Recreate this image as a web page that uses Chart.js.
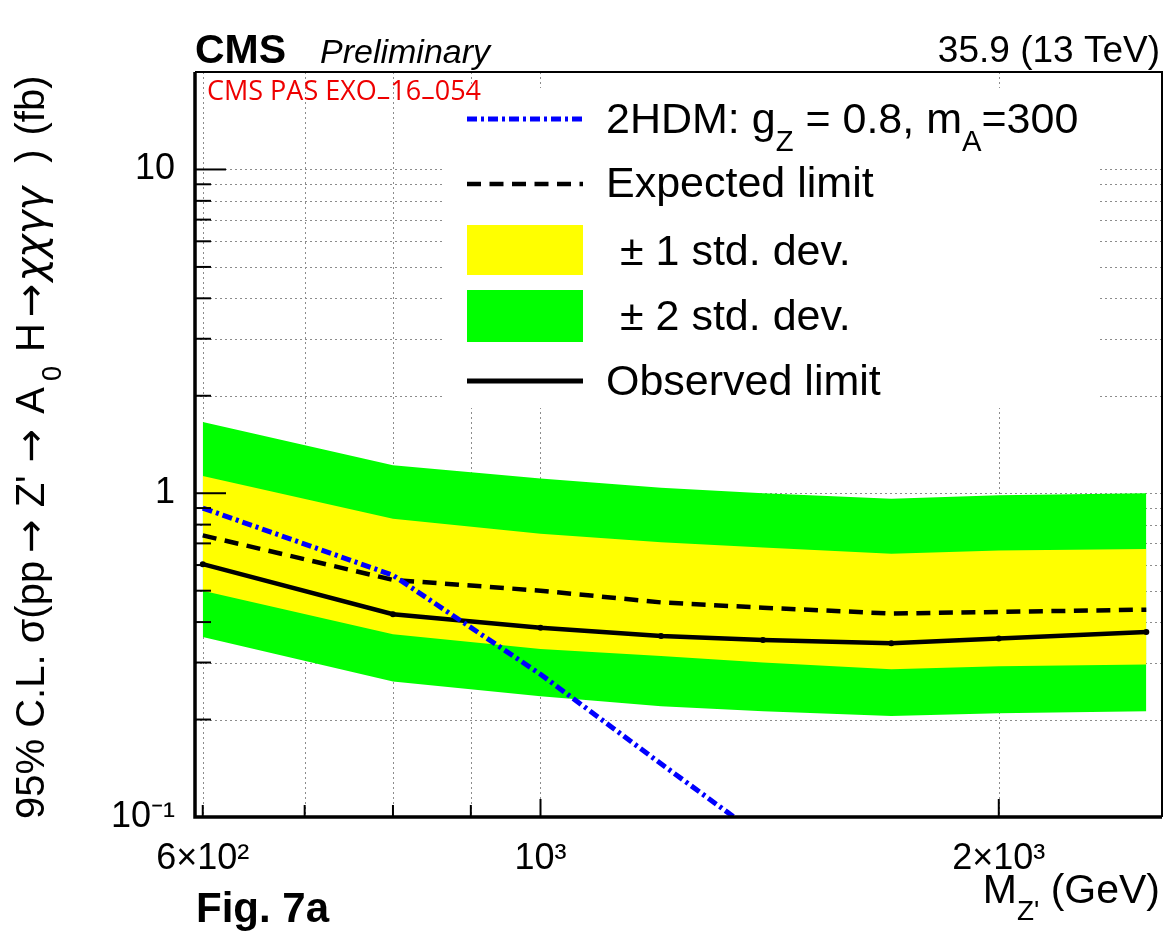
<!DOCTYPE html>
<html>
<head>
<meta charset="utf-8">
<script src="https://cdn.jsdelivr.net/npm/chart.js@4.4.0/dist/chart.umd.min.js"></script>
<style>
body { margin: 0; background: #fff; }
#wrap { position: relative; width: 1172px; height: 937px; }
</style>
</head>
<body>
<div id="wrap"><canvas id="limitChart" width="1172" height="937"></canvas></div>
<script>
//DATA
var massPoints = [600, 800, 1000, 1200, 1400, 1700, 2000, 2500];
var observedLimit = [0.604, 0.423, 0.384, 0.362, 0.352, 0.344, 0.356, 0.373];
var expectedLimit = [0.741, 0.54, 0.50, 0.46, 0.443, 0.425, 0.43, 0.437];
var band1Up = [1.13, 0.834, 0.75, 0.706, 0.68, 0.65, 0.665, 0.673];
var band1Down = [0.50, 0.367, 0.33, 0.314, 0.30, 0.286, 0.292, 0.296];
var band2Up = [1.66, 1.22, 1.11, 1.04, 1.0, 0.962, 0.986, 1.0];
var band2Down = [0.36, 0.262, 0.236, 0.22, 0.212, 0.205, 0.209, 0.212];
var theoryMass = [600, 800, 1000, 1200, 1400];
var theoryXsec = [0.90, 0.558, 0.276, 0.146, 0.086];

//AXIS CONFIG
var xTickValues = [600, 700, 800, 900, 1000, 2000];
var xTickLabels = { 600: '6×10²', 1000: '10³', 2000: '2×10³' };
var yDecades = [0.1, 1, 10];
var yTickLabels = { 0.1: '10⁻¹', 1: '1', 10: '10' };

var yTickValues = [];
yDecades.forEach(function(d) {
    for (var k = 1; k <= 9; k++) {
        var v = parseFloat((d * k).toPrecision(3));
        if (v <= 20) yTickValues.push(v);
    }
});

var FONT = "'Liberation Sans', Arial, Helvetica, sans-serif";
var SYMBOL_FONT = "'DejaVu Sans', sans-serif";

function points(xs, ys) {
    return xs.map(function(x, i) { return { x: x, y: ys[i] }; });
}

//TEXT WITH SUB/SUPERSCRIPTS
//part = [text, 'sub'|'sup'|null, fontFamily, extraStyle]  or  [null, 'gap', px]
function partFont(p, size, style) {
    var s = (p[1] === 'sub' || p[1] === 'sup') ? size * 0.68 : size;
    return ((p[3] || style) + ' ' + s + 'px ' + (p[2] || FONT)).trim();
}

function partWidth(ctx, p, size, style) {
    if (p[1] === 'gap') return p[2];
    ctx.font = partFont(p, size, style);
    return ctx.measureText(p[0]).width;
}

function drawRich(ctx, parts, x, y, size, style, align) {
    var w = 0;
    parts.forEach(function(p) { w += partWidth(ctx, p, size, style); });
    if (align === 'right') x -= w;
    if (align === 'center') x -= w / 2;
    ctx.textAlign = 'left';
    ctx.textBaseline = 'alphabetic';
    parts.forEach(function(p) {
        if (p[1] !== 'gap') {
            var dy = 0;
            if (p[1] === 'sub') dy = size * 0.42;
            if (p[1] === 'sup') dy = -size * 0.42;
            ctx.font = partFont(p, size, style);
            ctx.fillText(p[0], x, y + dy);
        }
        x += partWidth(ctx, p, size, style);
    });
}

//LEGEND BOX AREA (white, hides grid)
var legendBox = { left: 445, top: 88, right: 1097, bottom: 408 };

var decorPlugin = {
    id: 'decor',
    beforeDatasetsDraw: function(chart) {
        var ctx = chart.ctx;
        var area = chart.chartArea;
        var xs = chart.scales.x, ys = chart.scales.y;
        ctx.save();
        //DOTTED GRID
        ctx.strokeStyle = '#8c8c8c';
        ctx.lineWidth = 1;
        ctx.setLineDash([2, 3]);
        xTickValues.forEach(function(v) {
            var px = Math.round(xs.getPixelForValue(v)) + 0.5;
            ctx.beginPath();
            ctx.moveTo(px, area.top);
            ctx.lineTo(px, area.bottom);
            ctx.stroke();
        });
        yTickValues.forEach(function(v) {
            var py = Math.round(ys.getPixelForValue(v)) + 0.5;
            ctx.beginPath();
            ctx.moveTo(area.left, py);
            ctx.lineTo(area.right, py);
            ctx.stroke();
        });
        ctx.setLineDash([]);
        ctx.fillStyle = '#fff';
        ctx.fillRect(legendBox.left, legendBox.top, legendBox.right - legendBox.left, legendBox.bottom - legendBox.top);
        ctx.restore();
    },
    afterDatasetsDraw: function(chart) {
        var ctx = chart.ctx;
        var area = chart.chartArea;
        var xs = chart.scales.x, ys = chart.scales.y;
        ctx.save();
        ctx.strokeStyle = '#000';

        //INWARD TICKS
        ctx.lineWidth = 2;
        yTickValues.forEach(function(v) {
            var py = ys.getPixelForValue(v);
            var len = yDecades.indexOf(v) >= 0 ? 31 : 16;
            ctx.beginPath();
            ctx.moveTo(area.left, py);
            ctx.lineTo(area.left + len, py);
            ctx.stroke();
        });
        xTickValues.forEach(function(v) {
            var px = xs.getPixelForValue(v);
            var len = xTickLabels[v] && v !== 600 ? 18 : 12;
            ctx.beginPath();
            ctx.moveTo(px, area.bottom);
            ctx.lineTo(px, area.bottom - len);
            ctx.stroke();
        });

        //FRAME
        ctx.lineWidth = 2;
        ctx.beginPath();
        ctx.moveTo(area.left, area.top);
        ctx.lineTo(area.right, area.top);
        ctx.lineTo(area.right, area.bottom);
        ctx.stroke();
        ctx.lineWidth = 3.5;
        ctx.beginPath();
        ctx.moveTo(area.left, area.top);
        ctx.lineTo(area.left, area.bottom);
        ctx.lineTo(area.right, area.bottom);
        ctx.stroke();

        //LEGEND
        var lx0 = 467, lx1 = 583, tx = 606, fs = 43;
        ctx.lineCap = 'butt';
        ctx.strokeStyle = '#0000ff';
        ctx.lineWidth = 5;
        ctx.setLineDash([10, 4, 3, 4]);
        ctx.beginPath(); ctx.moveTo(lx0, 119); ctx.lineTo(lx1, 119); ctx.stroke();
        ctx.strokeStyle = '#000';
        ctx.lineWidth = 4.5;
        ctx.setLineDash([14, 8.5]);
        ctx.beginPath(); ctx.moveTo(lx0, 184); ctx.lineTo(lx1, 184); ctx.stroke();
        ctx.setLineDash([]);
        ctx.lineWidth = 5;
        ctx.beginPath(); ctx.moveTo(lx0, 381); ctx.lineTo(lx1, 381); ctx.stroke();
        ctx.fillStyle = '#ffff00';
        ctx.fillRect(lx0, 225, lx1 - lx0, 50);
        ctx.fillStyle = '#00ff00';
        ctx.fillRect(lx0, 290, lx1 - lx0, 52);

        ctx.fillStyle = '#000';
        drawRich(ctx, [['2HDM: g'], ['Z', 'sub'], [' = 0.8, m'], ['A', 'sub'], ['=300']], tx, 133, fs, '', 'left');
        drawRich(ctx, [['Expected limit']], tx, 197, fs, '', 'left');
        drawRich(ctx, [['± 1 std. dev.']], 620, 265, fs, '', 'left');
        drawRich(ctx, [['± 2 std. dev.']], 620, 330, fs, '', 'left');
        drawRich(ctx, [['Observed limit']], tx, 395, fs, '', 'left');
        ctx.restore();
    },
    afterDraw: function(chart) {
        var ctx = chart.ctx;
        ctx.save();
        ctx.fillStyle = '#000';
        //HEADER
        drawRich(ctx, [['CMS']], 195, 63, 41, 'bold', 'left');
        drawRich(ctx, [['Preliminary']], 320, 63, 34, 'italic', 'left');
        drawRich(ctx, [['35.9 (13 TeV)']], 1160, 62, 37, '', 'right');

        //CAPTION
        drawRich(ctx, [['Fig. 7a']], 196, 922, 42, 'bold', 'left');

        //RED NOTE
        ctx.fillStyle = '#ee0000';
        ctx.textAlign = 'left';
        ctx.textBaseline = 'alphabetic';
        var noteParts = [['CMS PAS EXO', 0], ['–', 5], ['16', 0], ['–', 5], ['054', 0]];
        var nx = 207;
        ctx.font = "27px 'Open Sans', 'Noto Sans', sans-serif";
        noteParts.forEach(function(p) {
            ctx.fillText(p[0], nx, 100 + p[1]);
            nx += ctx.measureText(p[0]).width;
        });

        //AXIS TITLES
        ctx.fillStyle = '#000';
        drawRich(ctx, [['M'], ["Z'", 'sub'], [' (GeV)']], 1160, 903, 41, '', 'right');

        ctx.translate(44, 0);
        ctx.rotate(-Math.PI / 2);
        drawRich(ctx, [
            ['95% C.L. σ(pp'], [null, 'gap', 8], ['→', null, SYMBOL_FONT], [null, 'gap', 12],
            ["Z'"], [null, 'gap', 13], ['→', null, SYMBOL_FONT], [null, 'gap', 15],
            ['A'], [null, 'gap', 6], ['0', 'sub'], [null, 'gap', 14], ['H'], [null, 'gap', 6],
            ['→', null, SYMBOL_FONT], [null, 'gap', 2], ['χχγγ', null, SYMBOL_FONT, 'italic'], [null, 'gap', 24],
            [')'], [null, 'gap', 14], ['(fb)']
        ], -819, 0, 40, '', 'left');
        ctx.restore();
    }
};

//CHART
var ctxLimit = document.getElementById('limitChart').getContext('2d');
var limitChart = new Chart(ctxLimit, {
    type: 'line',
    data: {
        datasets: [{
            label: '+2 sigma',
            data: points(massPoints, band2Up),
            fill: '+1',
            backgroundColor: '#00ff00',
            borderColor: 'rgba(0,0,0,0)',
            borderWidth: 0,
            pointRadius: 0,
            order: 5
        }, {
            label: '-2 sigma',
            data: points(massPoints, band2Down),
            fill: false,
            borderColor: 'rgba(0,0,0,0)',
            borderWidth: 0,
            pointRadius: 0,
            order: 5
        }, {
            label: '+1 sigma',
            data: points(massPoints, band1Up),
            fill: '+1',
            backgroundColor: '#ffff00',
            borderColor: 'rgba(0,0,0,0)',
            borderWidth: 0,
            pointRadius: 0,
            order: 4
        }, {
            label: '-1 sigma',
            data: points(massPoints, band1Down),
            fill: false,
            borderColor: 'rgba(0,0,0,0)',
            borderWidth: 0,
            pointRadius: 0,
            order: 4
        }, {
            label: 'Expected limit',
            data: points(massPoints, expectedLimit),
            fill: false,
            borderColor: '#000',
            borderWidth: 4.5,
            borderDash: [14, 8.5],
            pointRadius: 0,
            order: 3
        }, {
            label: 'Observed limit',
            data: points(massPoints, observedLimit),
            fill: false,
            borderColor: '#000',
            borderWidth: 4.5,
            pointRadius: 3,
            pointBackgroundColor: '#000',
            pointBorderWidth: 0,
            order: 2
        }, {
            label: '2HDM',
            data: points(theoryMass, theoryXsec),
            fill: false,
            borderColor: '#0000ff',
            borderWidth: 5,
            borderDash: [10, 4, 3, 4],
            pointRadius: 0,
            order: 1
        }]
    },
    options: {
        responsive: false,
        animation: false,
        devicePixelRatio: 1,
        layout: { padding: { top: 72, right: 10, left: 0, bottom: 0 } },
        elements: { line: { tension: 0 } },
        plugins: {
            legend: { display: false },
            tooltip: { enabled: false }
        },
        scales: {
            x: {
                type: 'logarithmic',
                min: 593,
                max: 2560,
                afterBuildTicks: function(axis) {
                    axis.ticks = xTickValues.map(function(v) { return { value: v }; });
                },
                afterFit: function(axis) { axis.height = 120; },
                grid: { display: false, drawTicks: false },
                border: { display: false },
                ticks: {
                    autoSkip: false,
                    maxRotation: 0,
                    padding: 20,
                    color: '#000',
                    font: { family: FONT, size: 36 },
                    callback: function(v) { return xTickLabels[v] || ''; }
                }
            },
            y: {
                type: 'logarithmic',
                min: 0.1,
                max: 20,
                afterBuildTicks: function(axis) {
                    axis.ticks = yTickValues.map(function(v) { return { value: v }; });
                },
                afterFit: function(axis) { axis.width = 195; },
                grid: { display: false, drawTicks: false },
                border: { display: false },
                ticks: {
                    autoSkip: false,
                    padding: 20,
                    color: '#000',
                    font: { family: FONT, size: 36 },
                    callback: function(v) { return yTickLabels[v] || ''; }
                }
            }
        }
    },
    plugins: [decorPlugin]
});
</script>
</body>
</html>
